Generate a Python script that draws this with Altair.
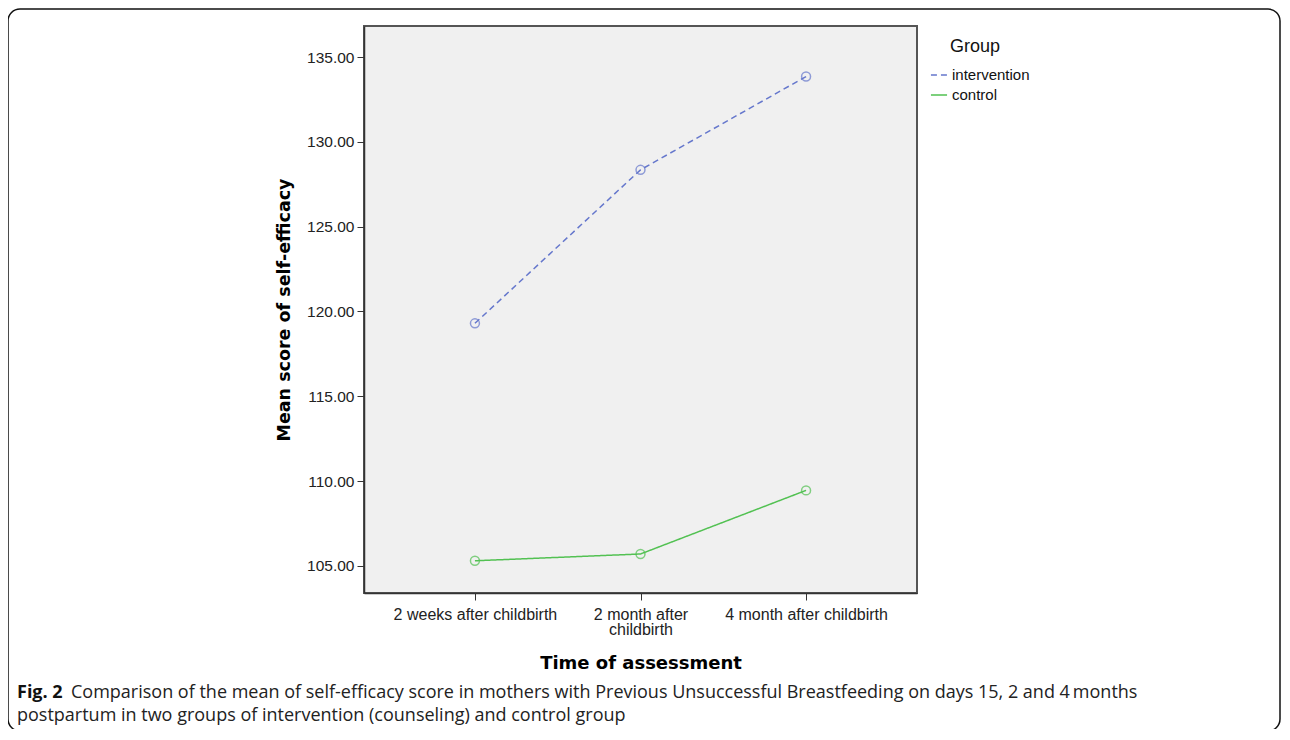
import altair as alt
import pandas as pd

times = ["2 weeks after childbirth", "2 month after childbirth", "4 month after childbirth"]
groups = ["intervention", "control"]
intervention = [119.3, 128.35, 133.85]
control = [105.3, 105.7, 109.45]
y_ticks = [105, 110, 115, 120, 125, 130, 135]
caption_bold = "Fig. 2"
caption_1 = "Comparison of the mean of self-efficacy score in mothers with Previous Unsuccessful Breastfeeding on days 15, 2 and 4\u2009months"
caption_2 = "postpartum in two groups of intervention (counseling) and control group"

rows = []
for t, v in zip(times, intervention):
    rows.append({"time": t, "group": "intervention", "score": v})
for t, v in zip(times, control):
    rows.append({"time": t, "group": "control", "score": v})
df = pd.DataFrame(rows)

W, H = 553, 567
colors = ["#6577cc", "#52c152"]

x_enc = alt.X(
    "time:N", sort=times, title="Time of assessment",
    scale=alt.Scale(type="point", padding=0.67),
    axis=alt.Axis(
        labelAngle=0, labelFontSize=16, labelFont="Liberation Sans", labelColor="#222",
        labelExpr="datum.value == '2 month after childbirth' ? ['2 month after', 'childbirth'] : datum.value",
        labelLineHeight=15, labelPadding=6,
        tickSize=7, tickColor="#333", domainColor="#333", domainWidth=1.5,
        titleFont="DejaVu Sans", titleFontSize=18, titleFontWeight="bold", titleColor="#000",
        titlePadding=17,
    ),
)
y_enc = alt.Y(
    "score:Q", title="Mean score of self-efficacy",
    scale=alt.Scale(domain=[103.4, 136.83], nice=False, zero=False),
    axis=alt.Axis(
        values=y_ticks, format=".2f", labelFontSize=15.5, labelFont="Liberation Sans", labelColor="#222",
        labelPadding=3, tickSize=7, tickColor="#333", domainColor="#333", domainWidth=1.5, grid=False,
        titleFont="DejaVu Sans", titleFontSize=17.5, titleFontWeight="bold", titleColor="#000",
        titlePadding=13,
    ),
)
leg = alt.Legend(
    title=None, orient="none", legendX=566, legendY=40, symbolType="stroke",
    symbolSize=260, symbolStrokeWidth=1.5, labelFontSize=15, labelFont="Liberation Sans",
    labelColor="#111", labelOffset=4, rowPadding=3, padding=0,
)
color_enc = alt.Color("group:N", sort=groups, scale=alt.Scale(domain=groups, range=colors), legend=leg)
dash_enc = alt.StrokeDash(
    "group:N", sort=groups,
    scale=alt.Scale(domain=groups, range=[[6, 4], [1, 0]]),
    legend=leg,
)

base = alt.Chart(df)
lines = base.mark_line(strokeWidth=1.5).encode(x=x_enc, y=y_enc, color=color_enc, strokeDash=dash_enc)
points = base.mark_point(shape="circle", filled=False, size=80, strokeWidth=1.5).encode(
    x=alt.X("time:N", sort=times),
    y="score:Q",
    color=alt.Color("group:N", sort=groups, legend=None),
)

one = pd.DataFrame({"a": [0]})
group_title = alt.Chart(pd.DataFrame({"t": ["Group"]})).mark_text(
    align="left", baseline="middle", font="Liberation Sans", fontSize=18, color="#111"
).encode(x=alt.value(586), y=alt.value(21), text="t:N")

cap_b = alt.Chart(pd.DataFrame({"t": [caption_bold]})).mark_text(
    align="left", baseline="middle", font="Open Sans", fontSize=18, fontWeight="bold", color="#111"
).encode(x=alt.value(-347), y=alt.value(667), text="t:N")
cap_1 = alt.Chart(pd.DataFrame({"t": [caption_1]})).mark_text(
    align="left", baseline="middle", font="Open Sans", fontSize=18, color="#222"
).encode(x=alt.value(-293), y=alt.value(667), text="t:N")
cap_2 = alt.Chart(pd.DataFrame({"t": [caption_2]})).mark_text(
    align="left", baseline="middle", font="Open Sans", fontSize=18, color="#222"
).encode(x=alt.value(-347), y=alt.value(690), text="t:N")

frame = alt.Chart(one).mark_rect(
    fillOpacity=0, stroke="#111", strokeWidth=1.5, cornerRadius=12
).encode(x=alt.value(-356), x2=alt.value(916), y=alt.value(-17), y2=alt.value(705))

chart = alt.layer(frame, lines, points, group_title, cap_b, cap_1, cap_2).properties(
    width=W, height=H,
    autosize=alt.AutoSizeParams(type="none"),
    padding={"left": 356, "top": 18, "right": 365, "bottom": 136},
    background="white",
).configure_view(
    fill="#f0f0f0", stroke="#555", strokeWidth=2
)

chart.save("out.html", embed_options={"renderer": "svg", "actions": False})
